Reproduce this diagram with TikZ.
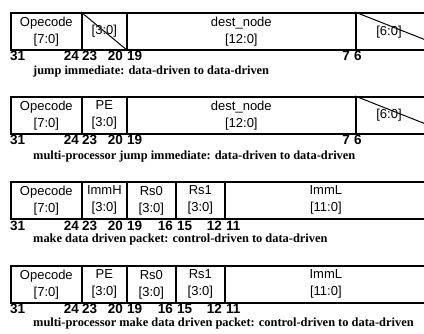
\documentclass[tikz,border=0pt]{standalone}
\usepackage{fontspec}
\setmainfont{Liberation Serif}
\setsansfont{Liberation Sans}
\begin{document}
\begin{tikzpicture}[x=1pt,y=-1pt,
  box/.style={draw=black, line width=1.7pt, inner sep=0pt, anchor=north west,
    minimum height=37pt, align=center, font=\sffamily\fontsize{13}{17}\selectfont},
  lbl/.style={inner sep=0pt, font=\sffamily\fontsize{13}{17}\selectfont},
  num/.style={font=\sffamily\bfseries\fontsize{13.5}{13.5}\selectfont, inner sep=0pt},
  captxt/.style={font=\rmfamily\bfseries\fontsize{12.4}{14}\selectfont, inner sep=0pt, anchor=west},
  slash/.style={line width=1pt}]
\useasboundingbox (0,0) rectangle (424,333);
\clip (0,0) rectangle (424,333);

% ---- row 1 ----
\node[box, minimum width=71pt] (a1) at (10,12) {Opecode\\{}[7:0]};
\node[box, minimum width=45pt] (a2) at (81,12) {[3:0]};
\node[box, minimum width=229pt] (a3) at (126,12) {dest\_node\\{}[12:0]};
\node[box, minimum width=96pt] (a4) at (355,12) {};
\node[lbl] (a4t) at (389,32) {[6:0]};
\draw[slash] (a2.north west) -- (a2.south east);
\draw[slash] (a4.north west) -- (a4.south east);
\node[num, anchor=west] (n1a) at (10,56) {31};
\node[num, anchor=east] (n1b) at (79,56) {24};
\node[num, anchor=west] (n1c) at (82,56) {23};
\node[num, anchor=east] (n1d) at (123,56) {20};
\node[num, anchor=west] (n1e) at (127,56) {19};
\node[num, anchor=east] (n1f) at (350,56) {7};
\node[num, anchor=west] (n1g) at (354,56) {6};
\node[captxt] (c1) at (33,72) {jump immediate: data-driven to data-driven};

% ---- row 2 ----
\node[box, minimum width=71pt] (b1) at (10,96) {Opecode\\{}[7:0]};
\node[box, minimum width=45pt] (b2) at (81,96) {PE\\{}[3:0]};
\node[box, minimum width=229pt] (b3) at (126,96) {dest\_node\\{}[12:0]};
\node[box, minimum width=96pt] (b4) at (355,96) {};
\node[lbl] (b4t) at (389,115) {[6:0]};
\draw[slash] (b4.north west) -- (b4.south east);
\node[num, anchor=west] (n2a) at (10,140) {31};
\node[num, anchor=east] (n2b) at (79,140) {24};
\node[num, anchor=west] (n2c) at (82,140) {23};
\node[num, anchor=east] (n2d) at (123,140) {20};
\node[num, anchor=west] (n2e) at (127,140) {19};
\node[num, anchor=east] (n2f) at (350,140) {7};
\node[num, anchor=west] (n2g) at (354,140) {6};
\node[captxt] (c2) at (33,157) {multi-processor jump immediate: data-driven to data-driven};

% ---- row 3 ----
\node[box, minimum width=71pt] (d1) at (10,181) {Opecode\\{}[7:0]};
\node[box, minimum width=45pt] (d2) at (81,181) {ImmH\\{}[3:0]};
\node[box, minimum width=49pt] (d3) at (126,181) {Rs0\\{}[3:0]};
\node[box, minimum width=49pt] (d4) at (175,181) {Rs1\\{}[3:0]};
\node[box, minimum width=202pt] (d5) at (224,181) {ImmL\\{}[11:0]};
\node[num, anchor=west] (n3a) at (10,226) {31};
\node[num, anchor=east] (n3b) at (79,226) {24};
\node[num, anchor=west] (n3c) at (82,226) {23};
\node[num, anchor=east] (n3d) at (123,226) {20};
\node[num, anchor=west] (n3e) at (127,226) {19};
\node[num, anchor=east] (n3f) at (173,226) {16};
\node[num, anchor=west] (n3g) at (177,226) {15};
\node[num, anchor=east] (n3h) at (222,226) {12};
\node[num, anchor=west] (n3i) at (226,226) {11};
\node[captxt] (c3) at (33,240) {make data driven packet: control-driven to data-driven};

% ---- row 4 ----
\node[box, minimum width=71pt] (e1) at (10,265) {Opecode\\{}[7:0]};
\node[box, minimum width=45pt] (e2) at (81,265) {PE\\{}[3:0]};
\node[box, minimum width=49pt] (e3) at (126,265) {Rs0\\{}[3:0]};
\node[box, minimum width=49pt] (e4) at (175,265) {Rs1\\{}[3:0]};
\node[box, minimum width=202pt] (e5) at (224,265) {ImmL\\{}[11:0]};
\node[num, anchor=west] (n4a) at (10,309) {31};
\node[num, anchor=east] (n4b) at (79,309) {24};
\node[num, anchor=west] (n4c) at (82,309) {23};
\node[num, anchor=east] (n4d) at (123,309) {20};
\node[num, anchor=west] (n4e) at (127,309) {19};
\node[num, anchor=east] (n4f) at (173,309) {16};
\node[num, anchor=west] (n4g) at (177,309) {15};
\node[num, anchor=east] (n4h) at (222,309) {12};
\node[num, anchor=west] (n4i) at (226,309) {11};
\node[captxt] (c4) at (33,324) {multi-processor make data driven packet: control-driven to data-driven};
\end{tikzpicture}
\end{document}
